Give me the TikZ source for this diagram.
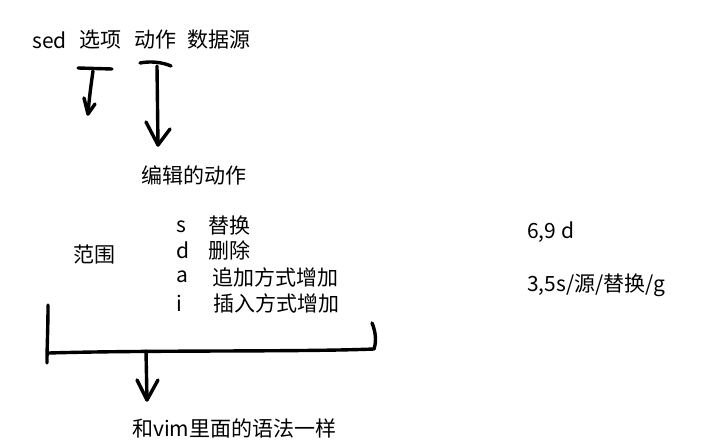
\documentclass[tikz,border=0pt]{standalone}
\usepackage{fontspec}
\setmainfont{Noto Sans CJK SC}
\begin{document}
\begin{tikzpicture}[x=1pt,y=-1pt,
  txt/.style={inner sep=0pt,anchor=west,font=\fontsize{21}{24}\selectfont},
  stroke/.style={line width=3.4pt,line cap=round,line join=round,black}]
\useasboundingbox[fill=white] (0,0) rectangle (726,441);
% title words
\node[txt] (sed) at (32,40) {sed};
\node[txt] (opt) at (79,40) {选项};
\node[txt] (act) at (134,40) {动作};
\node[txt] (src) at (187,40) {数据源};
% arrow 1 (options)
\coordinate (a1l) at (78,68);
\coordinate (a1r) at (112,69);
\coordinate (a1s) at (93,71);
\coordinate (a1t) at (88,114);
\draw[stroke] (a1l) -- (a1r);
\draw[stroke] (a1s) .. controls (91,85) and (89,100) .. (a1t);
\draw[stroke] (84,98) -- (a1t) -- (95,104);
% arrow 2 (action)
\coordinate (a2l) at (140,63);
\coordinate (a2r) at (171,66);
\coordinate (a2s) at (157,66);
\draw[stroke] (a2l) .. controls (150,61) and (162,62) .. (a2r);
\node[txt] (edit) at (141,175) {编辑的动作};
\coordinate (a2t) at (158,145);
\draw[stroke] (a2s) -- (a2t);
\draw[stroke] (146,122) -- (a2t) -- (170,129);
% action list
\node[txt] (ks) at (176,227) {s};
\node[txt] (vs) at (208,226) {替换};
\node[txt] (kd) at (176,250) {d};
\node[txt] (vd) at (208,250) {删除};
\node[txt] (ka) at (176,277) {a};
\node[txt] (va) at (212,277) {追加方式增加};
\node[txt] (ki) at (176,303) {i};
\node[txt] (vi) at (213,303) {插入方式增加};
\node[txt] (range) at (73,255) {范围};
% examples
\node[txt] (ex1) at (527,232) {6,9 d};
\node[txt] (ex2) at (527,285) {3,5s/源/替换/g};
% bracket
\coordinate (bl) at (48,305);
\coordinate (bb) at (47,363);
\coordinate (br) at (372,323);
\coordinate (bm) at (146,351);
\draw[stroke] (bl) .. controls (48,330) and (47,345) .. (bb);
\draw[stroke] (49,353) .. controls (150,350) and (300,352) .. (374,349)
  .. controls (377,340) and (375,330) .. (br);
\coordinate (b3t) at (147,400);
\draw[stroke] (bm) -- (b3t);
\draw[stroke] (137,380) -- (b3t) -- (158,380);
\node[txt] (vim) at (132,428) {和vim里面的语法一样};
\end{tikzpicture}
\end{document}
